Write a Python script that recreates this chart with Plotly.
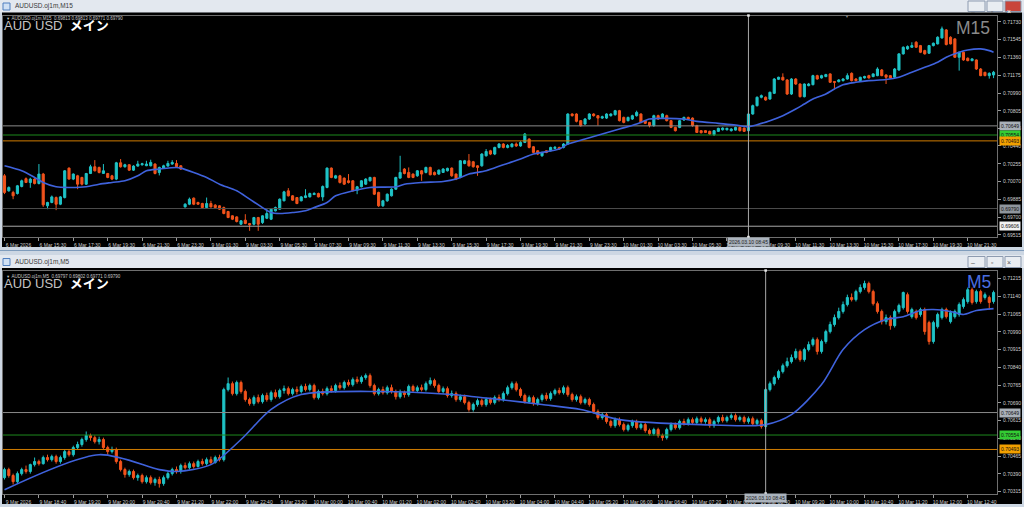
import plotly.graph_objects as go

W, H = 1024, 507

# ---------------- M15 (top window) ----------------
m15_open = [
0.70130,0.69974,0.69957,0.69946,0.70019,0.70100,0.70060,0.70096,0.70050,0.70148,
0.69818,0.69853,0.69904,0.69835,0.69904,0.70210,0.70096,0.70130,0.70113,0.70043,
0.70154,0.70224,0.70217,0.70155,0.70154,0.70130,0.70096,0.70265,0.70224,0.70245,
0.70189,0.70231,0.70245,0.70235,0.70234,0.70252,0.70165,0.70210,0.70231,0.70252,
0.70258,0.70234,0.69807,0.69835,0.69898,0.69853,0.69842,0.69800,0.69842,0.69825,
0.69818,0.69800,0.69759,0.69714,0.69703,0.69627,0.69669,0.69634,0.69627,0.69696,
0.69644,0.69689,0.69679,0.69766,0.69783,0.69870,0.69974,0.69922,0.69904,0.69870,
0.69904,0.69911,0.69935,0.69946,0.69911,0.70009,0.70210,0.70106,0.70130,0.70106,
0.70078,0.70078,0.69981,0.70016,0.70043,0.70078,0.70113,0.69957,0.69818,0.69870,
0.69922,0.69991,0.70106,0.70200,0.70165,0.70148,0.70130,0.70182,0.70165,0.70217,
0.70165,0.70148,0.70165,0.70182,0.70210,0.70148,0.70113,0.70258,0.70286,0.70276,
0.70234,0.70234,0.70338,0.70390,0.70356,0.70425,0.70460,0.70425,0.70432,0.70460,
0.70440,0.70477,0.70512,0.70432,0.70390,0.70338,0.70390,0.70390,0.70415,0.70425,
0.70425,0.70460,0.70772,0.70772,0.70703,0.70668,0.70720,0.70772,0.70755,0.70730,
0.70730,0.70755,0.70765,0.70807,0.70737,0.70703,0.70720,0.70755,0.70772,0.70703,
0.70685,0.70651,0.70755,0.70737,0.70755,0.70703,0.70633,0.70633,0.70710,0.70737,
0.70730,0.70651,0.70599,0.70599,0.70592,0.70557,0.70592,0.70609,0.70609,0.70599,
0.70605,0.70633,0.70626,0.70599,0.70772,0.70859,0.70946,0.70946,0.70928,0.70987,
0.71133,0.71154,0.71126,0.70980,0.71136,0.71084,0.70952,0.71067,0.71077,0.71171,
0.71147,0.71161,0.71189,0.71109,0.71109,0.71119,0.71136,0.71195,0.71136,0.71119,
0.71147,0.71171,0.71161,0.71171,0.71230,0.71178,0.71171,0.71154,0.71230,0.71397,
0.71449,0.71466,0.71518,0.71483,0.71431,0.71404,0.71483,0.71501,0.71563,0.71646,
0.71570,0.71553,0.71362,0.71414,0.71352,0.71327,0.71334,0.71240,0.71206,0.71171,
0.71178]
m15_high = [
0.70148,0.70020,0.69974,0.70035,0.70090,0.70113,0.70110,0.70105,0.70252,0.70160,
0.69860,0.69925,0.69915,0.69920,0.70190,0.70217,0.70155,0.70140,0.70120,0.70160,
0.70245,0.70293,0.70225,0.70252,0.70160,0.70140,0.70275,0.70304,0.70255,0.70252,
0.70240,0.70286,0.70265,0.70286,0.70297,0.70260,0.70225,0.70245,0.70286,0.70293,
0.70293,0.70240,0.69845,0.69904,0.69905,0.69860,0.69850,0.69904,0.69870,0.69835,
0.69825,0.69810,0.69766,0.69720,0.69710,0.69670,0.69731,0.69640,0.69703,0.69703,
0.69720,0.69783,0.69790,0.69810,0.69895,0.69974,0.70002,0.69930,0.69910,0.69920,
0.69991,0.69955,0.69960,0.69955,0.70030,0.70217,0.70217,0.70140,0.70140,0.70113,
0.70148,0.70085,0.70025,0.70085,0.70105,0.70120,0.70120,0.69965,0.69880,0.69946,
0.70000,0.70120,0.70338,0.70210,0.70217,0.70155,0.70190,0.70190,0.70225,0.70225,
0.70175,0.70195,0.70210,0.70215,0.70217,0.70155,0.70293,0.70295,0.70356,0.70285,
0.70240,0.70365,0.70408,0.70400,0.70432,0.70470,0.70470,0.70460,0.70470,0.70477,
0.70490,0.70575,0.70520,0.70440,0.70398,0.70380,0.70398,0.70432,0.70440,0.70432,
0.70470,0.70780,0.70780,0.70780,0.70710,0.70730,0.70780,0.70780,0.70760,0.70755,
0.70780,0.70780,0.70815,0.70815,0.70745,0.70745,0.70765,0.70807,0.70780,0.70710,
0.70690,0.70765,0.70765,0.70780,0.70765,0.70710,0.70640,0.70710,0.70745,0.70745,
0.70737,0.70660,0.70605,0.70605,0.70599,0.70605,0.70630,0.70633,0.70630,0.70625,
0.70640,0.70640,0.70633,0.70780,0.70870,0.70955,0.70975,0.70955,0.71005,0.71145,
0.71160,0.71195,0.71135,0.71145,0.71145,0.71090,0.71090,0.71095,0.71180,0.71180,
0.71180,0.71190,0.71195,0.71115,0.71135,0.71145,0.71195,0.71205,0.71145,0.71160,
0.71170,0.71180,0.71195,0.71258,0.71240,0.71185,0.71178,0.71250,0.71405,0.71475,
0.71485,0.71518,0.71530,0.71490,0.71440,0.71490,0.71515,0.71580,0.71681,0.71655,
0.71580,0.71560,0.71420,0.71420,0.71360,0.71352,0.71340,0.71250,0.71210,0.71205,
0.71220]
m15_low = [
0.69940,0.69965,0.69887,0.69935,0.70010,0.70060,0.70005,0.70040,0.70040,0.69807,
0.69783,0.69845,0.69773,0.69825,0.69895,0.70090,0.70085,0.69991,0.70030,0.70035,
0.70148,0.70175,0.70155,0.70150,0.70105,0.70085,0.70085,0.70215,0.70215,0.70180,
0.70180,0.70225,0.70235,0.70230,0.70228,0.70145,0.70134,0.70205,0.70225,0.70245,
0.70215,0.70190,0.69800,0.69825,0.69825,0.69828,0.69790,0.69795,0.69800,0.69790,
0.69775,0.69730,0.69690,0.69670,0.69645,0.69620,0.69627,0.69558,0.69615,0.69558,
0.69630,0.69680,0.69670,0.69760,0.69775,0.69865,0.69915,0.69870,0.69835,0.69865,
0.69898,0.69905,0.69930,0.69905,0.69870,0.70000,0.70105,0.70100,0.70050,0.70035,
0.70050,0.69965,0.69939,0.70010,0.70035,0.70070,0.69930,0.69807,0.69807,0.69860,
0.69915,0.69985,0.70100,0.70145,0.70105,0.70105,0.70120,0.70078,0.70155,0.70135,
0.70135,0.70140,0.70160,0.70175,0.70120,0.70085,0.70105,0.70250,0.70225,0.70215,
0.70130,0.70225,0.70330,0.70345,0.70345,0.70415,0.70415,0.70415,0.70425,0.70430,
0.70432,0.70470,0.70415,0.70365,0.70345,0.70328,0.70365,0.70383,0.70408,0.70400,
0.70415,0.70450,0.70745,0.70685,0.70640,0.70660,0.70710,0.70745,0.70651,0.70720,
0.70720,0.70745,0.70755,0.70695,0.70675,0.70695,0.70710,0.70745,0.70675,0.70668,
0.70633,0.70640,0.70710,0.70730,0.70695,0.70625,0.70590,0.70625,0.70700,0.70710,
0.70640,0.70575,0.70570,0.70575,0.70555,0.70545,0.70585,0.70600,0.70600,0.70590,
0.70600,0.70590,0.70585,0.70590,0.70765,0.70850,0.70935,0.70910,0.70920,0.70980,
0.71125,0.71120,0.70970,0.70970,0.71075,0.70945,0.70945,0.71060,0.71070,0.71130,
0.71140,0.71155,0.71095,0.71032,0.71100,0.71110,0.71130,0.71110,0.71110,0.71110,
0.71140,0.71140,0.71155,0.71165,0.71165,0.71084,0.71140,0.71145,0.71220,0.71390,
0.71440,0.71460,0.71460,0.71405,0.71390,0.71397,0.71475,0.71495,0.71555,0.71485,
0.71495,0.71355,0.71223,0.71325,0.71320,0.71320,0.71230,0.71165,0.71165,0.71140,
0.71145]
m15_close = [
0.69957,0.70009,0.69922,0.70026,0.70078,0.70060,0.70096,0.70050,0.70148,0.69828,
0.69853,0.69911,0.69835,0.69911,0.70182,0.70096,0.70148,0.70043,0.70043,0.70154,
0.70224,0.70182,0.70165,0.70182,0.70113,0.70096,0.70265,0.70224,0.70245,0.70189,
0.70231,0.70252,0.70255,0.70252,0.70269,0.70154,0.70217,0.70234,0.70258,0.70269,
0.70224,0.70200,0.69835,0.69887,0.69835,0.69835,0.69800,0.69842,0.69807,0.69800,
0.69783,0.69738,0.69696,0.69679,0.69655,0.69662,0.69634,0.69620,0.69696,0.69627,
0.69714,0.69738,0.69783,0.69800,0.69887,0.69963,0.69922,0.69877,0.69842,0.69911,
0.69922,0.69946,0.69946,0.69911,0.70019,0.70210,0.70113,0.70130,0.70061,0.70043,
0.70061,0.69974,0.70016,0.70078,0.70096,0.70113,0.69939,0.69818,0.69870,0.69939,
0.69991,0.70113,0.70165,0.70154,0.70113,0.70113,0.70182,0.70148,0.70217,0.70141,
0.70141,0.70189,0.70200,0.70207,0.70130,0.70096,0.70286,0.70286,0.70234,0.70224,
0.70217,0.70356,0.70383,0.70356,0.70425,0.70460,0.70425,0.70445,0.70460,0.70440,
0.70477,0.70564,0.70425,0.70373,0.70356,0.70373,0.70373,0.70425,0.70425,0.70408,
0.70460,0.70772,0.70755,0.70696,0.70651,0.70720,0.70772,0.70755,0.70730,0.70744,
0.70772,0.70772,0.70807,0.70703,0.70685,0.70737,0.70755,0.70789,0.70685,0.70675,
0.70651,0.70755,0.70720,0.70772,0.70703,0.70633,0.70599,0.70703,0.70737,0.70720,
0.70651,0.70581,0.70578,0.70581,0.70564,0.70599,0.70623,0.70626,0.70623,0.70616,
0.70633,0.70599,0.70592,0.70772,0.70859,0.70946,0.70963,0.70918,0.70998,0.71136,
0.71154,0.71126,0.70980,0.71136,0.71084,0.70952,0.71084,0.71084,0.71171,0.71136,
0.71171,0.71182,0.71102,0.71102,0.71126,0.71136,0.71171,0.71119,0.71119,0.71154,
0.71161,0.71147,0.71189,0.71240,0.71171,0.71154,0.71147,0.71240,0.71397,0.71466,
0.71473,0.71483,0.71466,0.71414,0.71397,0.71483,0.71508,0.71570,0.71657,0.71494,
0.71501,0.71362,0.71414,0.71334,0.71327,0.71345,0.71240,0.71171,0.71171,0.71195,
0.71206]
m15_ma_idx = [0,4,7,9,12,15,19,22,25,28,31,33,36,40,41,44,47,50,54,57,60,62,64,67,70,72,75,77,81,85,
              91,93,97,102,105,108,112,116,120,123,129,131,135,139,143,147,150,153,158,161,166,170,173,175,178,
              181,184,186,188,191,193,195,198,201,205,208,211,214,217,219,222,224,227,229,230]
m15_ma = [0.70234,0.70182,0.70113,0.70061,0.70016,0.70009,0.70016,0.70043,0.70061,0.70078,0.70130,0.70182,0.70200,
          0.70217,0.70210,0.70165,0.70113,0.70043,0.69974,0.69887,0.69800,0.69748,0.69738,0.69748,0.69766,0.69800,
          0.69853,0.69922,0.69974,0.70009,0.70016,0.70043,0.70061,0.70071,0.70096,0.70148,0.70182,0.70245,0.70304,
          0.70356,0.70408,0.70460,0.70512,0.70564,0.70616,0.70668,0.70720,0.70727,0.70720,0.70696,0.70675,0.70658,
          0.70640,0.70661,0.70703,0.70755,0.70824,0.70876,0.70928,0.70980,0.71032,0.71077,0.71102,0.71119,0.71130,
          0.71154,0.71206,0.71258,0.71310,0.71362,0.71414,0.71438,0.71449,0.71431,0.71414]
m15_xtick_idx = [0, 8, 16, 24, 32, 40, 48, 56, 64, 72, 80, 88, 96, 104, 112, 120, 128, 136,
                 144, 152, 160, 168, 176, 184, 192, 200, 208, 216, 224]
m15_xtick_text = ["6 Mar 2026", "6 Mar 15:30", "6 Mar 17:30", "6 Mar 19:30", "6 Mar 21:30", "6 Mar 23:30",
                  "9 Mar 01:30", "9 Mar 03:30", "9 Mar 05:30", "9 Mar 07:30", "9 Mar 09:30", "9 Mar 11:30",
                  "9 Mar 13:30", "9 Mar 15:30", "9 Mar 17:30", "9 Mar 19:30", "9 Mar 21:30", "9 Mar 23:30",
                  "10 Mar 01:30", "10 Mar 03:30", "10 Mar 05:30", "10 Mar 07:30", "10 Mar 09:30", "10 Mar 11:30",
                  "10 Mar 13:30", "10 Mar 15:30", "10 Mar 17:30", "10 Mar 19:30", "10 Mar 21:30"]
m15_yticks = [0.71730, 0.71545, 0.71360, 0.71175, 0.70990, 0.70805, 0.70625, 0.70440,
              0.70255, 0.70070, 0.69885, 0.69700, 0.69515]
m15_levels = [0.70649, 0.70554, 0.70493, 0.69790, 0.69606]
m15_cross_idx = 173
m15_shift_idx = 196

# ---------------- M5 (bottom window) ----------------
m5_open = [
0.70374,0.70408,0.70383,0.70357,0.70391,0.70408,0.70400,0.70429,0.70442,0.70433,
0.70459,0.70450,0.70463,0.70442,0.70459,0.70484,0.70471,0.70501,0.70514,0.70535,
0.70552,0.70543,0.70526,0.70535,0.70501,0.70484,0.70493,0.70442,0.70408,0.70387,
0.70400,0.70374,0.70383,0.70357,0.70374,0.70353,0.70366,0.70349,0.70374,0.70391,
0.70408,0.70400,0.70425,0.70416,0.70433,0.70421,0.70442,0.70433,0.70450,0.70438,
0.70459,0.70450,0.70746,0.70771,0.70729,0.70776,0.70738,0.70704,0.70687,0.70712,
0.70695,0.70721,0.70704,0.70733,0.70716,0.70742,0.70750,0.70729,0.70746,0.70738,
0.70759,0.70746,0.70763,0.70712,0.70738,0.70729,0.70750,0.70742,0.70763,0.70754,
0.70776,0.70767,0.70788,0.70780,0.70797,0.70805,0.70763,0.70729,0.70746,0.70733,
0.70754,0.70738,0.70716,0.70733,0.70725,0.70759,0.70742,0.70754,0.70746,0.70771,
0.70784,0.70763,0.70738,0.70750,0.70721,0.70729,0.70704,0.70716,0.70691,0.70662,
0.70683,0.70699,0.70683,0.70704,0.70691,0.70712,0.70704,0.70729,0.70754,0.70771,
0.70746,0.70721,0.70695,0.70712,0.70687,0.70704,0.70721,0.70708,0.70729,0.70742,
0.70733,0.70754,0.70725,0.70704,0.70716,0.70691,0.70704,0.70683,0.70653,0.70628,
0.70640,0.70611,0.70594,0.70619,0.70598,0.70577,0.70594,0.70611,0.70585,0.70598,
0.70573,0.70560,0.70577,0.70552,0.70543,0.70577,0.70598,0.70585,0.70611,0.70602,
0.70619,0.70607,0.70623,0.70611,0.70619,0.70594,0.70611,0.70628,0.70615,0.70628,
0.70636,0.70619,0.70628,0.70611,0.70623,0.70602,0.70615,0.70590,0.70746,0.70771,
0.70797,0.70822,0.70847,0.70864,0.70881,0.70907,0.70873,0.70915,0.70936,0.70957,
0.70907,0.70949,0.70991,0.71021,0.71050,0.71076,0.71105,0.71135,0.71126,0.71160,
0.71177,0.71194,0.71160,0.71109,0.71076,0.71033,0.71050,0.71016,0.71076,0.71092,
0.71147,0.71054,0.71076,0.71063,0.71084,0.71029,0.70949,0.71012,0.71050,0.71084,
0.71033,0.71054,0.71063,0.71097,0.71118,0.71168,0.71118,0.71160,0.71135,0.71135,
0.71118]
m5_high = [
0.70416,0.70416,0.70391,0.70400,0.70416,0.70425,0.70433,0.70459,0.70450,0.70467,
0.70471,0.70471,0.70471,0.70467,0.70493,0.70493,0.70509,0.70526,0.70543,0.70569,
0.70560,0.70552,0.70547,0.70543,0.70509,0.70505,0.70501,0.70450,0.70416,0.70408,
0.70408,0.70391,0.70391,0.70383,0.70383,0.70374,0.70378,0.70383,0.70400,0.70416,
0.70421,0.70433,0.70438,0.70442,0.70442,0.70450,0.70454,0.70459,0.70463,0.70467,
0.70471,0.70754,0.70797,0.70780,0.70784,0.70784,0.70746,0.70712,0.70721,0.70725,
0.70729,0.70733,0.70742,0.70746,0.70750,0.70763,0.70759,0.70754,0.70759,0.70767,
0.70771,0.70771,0.70771,0.70746,0.70750,0.70759,0.70763,0.70771,0.70776,0.70784,
0.70788,0.70797,0.70801,0.70805,0.70814,0.70814,0.70771,0.70754,0.70759,0.70763,
0.70767,0.70746,0.70746,0.70742,0.70767,0.70767,0.70763,0.70767,0.70780,0.70797,
0.70792,0.70771,0.70759,0.70759,0.70742,0.70738,0.70725,0.70725,0.70699,0.70691,
0.70708,0.70708,0.70712,0.70712,0.70721,0.70725,0.70738,0.70763,0.70780,0.70780,
0.70754,0.70729,0.70721,0.70721,0.70712,0.70729,0.70733,0.70738,0.70750,0.70754,
0.70763,0.70763,0.70733,0.70725,0.70725,0.70712,0.70712,0.70691,0.70662,0.70649,
0.70649,0.70619,0.70628,0.70628,0.70607,0.70602,0.70619,0.70619,0.70607,0.70607,
0.70581,0.70585,0.70585,0.70560,0.70585,0.70607,0.70607,0.70619,0.70623,0.70628,
0.70628,0.70632,0.70632,0.70628,0.70628,0.70619,0.70636,0.70640,0.70636,0.70645,
0.70645,0.70636,0.70636,0.70632,0.70632,0.70623,0.70623,0.70754,0.70780,0.70805,
0.70830,0.70856,0.70881,0.70894,0.70919,0.70915,0.70923,0.70949,0.70966,0.70966,
0.70957,0.70999,0.71033,0.71063,0.71092,0.71118,0.71147,0.71152,0.71168,0.71190,
0.71206,0.71202,0.71168,0.71118,0.71084,0.71063,0.71059,0.71084,0.71109,0.71160,
0.71156,0.71092,0.71084,0.71092,0.71092,0.71037,0.71037,0.71071,0.71092,0.71092,
0.71080,0.71084,0.71114,0.71135,0.71177,0.71177,0.71168,0.71168,0.71156,0.71143,
0.71164]
m5_low = [
0.70366,0.70374,0.70345,0.70349,0.70383,0.70391,0.70391,0.70421,0.70425,0.70429,
0.70442,0.70442,0.70433,0.70433,0.70450,0.70463,0.70463,0.70493,0.70505,0.70526,
0.70530,0.70518,0.70514,0.70493,0.70471,0.70476,0.70433,0.70400,0.70374,0.70378,
0.70366,0.70361,0.70349,0.70349,0.70345,0.70340,0.70332,0.70340,0.70366,0.70383,
0.70391,0.70391,0.70408,0.70408,0.70412,0.70416,0.70425,0.70425,0.70429,0.70433,
0.70442,0.70442,0.70738,0.70721,0.70721,0.70729,0.70695,0.70678,0.70678,0.70687,
0.70687,0.70695,0.70695,0.70708,0.70708,0.70729,0.70721,0.70721,0.70725,0.70729,
0.70738,0.70738,0.70704,0.70704,0.70721,0.70721,0.70733,0.70733,0.70746,0.70746,
0.70759,0.70759,0.70771,0.70771,0.70788,0.70754,0.70721,0.70721,0.70725,0.70725,
0.70729,0.70704,0.70708,0.70712,0.70716,0.70733,0.70733,0.70738,0.70738,0.70763,
0.70754,0.70729,0.70729,0.70712,0.70712,0.70695,0.70695,0.70683,0.70653,0.70653,
0.70674,0.70674,0.70674,0.70683,0.70683,0.70695,0.70695,0.70721,0.70746,0.70738,
0.70712,0.70687,0.70687,0.70678,0.70678,0.70695,0.70699,0.70699,0.70721,0.70725,
0.70725,0.70716,0.70695,0.70695,0.70683,0.70683,0.70674,0.70645,0.70619,0.70619,
0.70602,0.70585,0.70585,0.70590,0.70569,0.70569,0.70585,0.70577,0.70577,0.70564,
0.70552,0.70552,0.70543,0.70530,0.70535,0.70569,0.70577,0.70577,0.70594,0.70594,
0.70598,0.70598,0.70602,0.70602,0.70585,0.70585,0.70602,0.70607,0.70607,0.70619,
0.70611,0.70611,0.70602,0.70602,0.70594,0.70594,0.70581,0.70581,0.70738,0.70763,
0.70788,0.70814,0.70839,0.70856,0.70873,0.70864,0.70864,0.70907,0.70928,0.70894,
0.70898,0.70940,0.70983,0.71012,0.71042,0.71067,0.71097,0.71118,0.71118,0.71152,
0.71168,0.71152,0.71101,0.71067,0.71021,0.71021,0.70999,0.71008,0.71067,0.71084,
0.71067,0.71046,0.71042,0.71054,0.70978,0.70936,0.70940,0.71004,0.71042,0.71046,
0.71025,0.71046,0.71054,0.71088,0.71109,0.71105,0.71109,0.71109,0.71126,0.71084,
0.71109]
m5_close = [
0.70408,0.70383,0.70357,0.70391,0.70408,0.70400,0.70429,0.70442,0.70433,0.70459,
0.70450,0.70463,0.70442,0.70459,0.70484,0.70471,0.70501,0.70514,0.70535,0.70552,
0.70543,0.70526,0.70535,0.70501,0.70484,0.70493,0.70442,0.70408,0.70387,0.70400,
0.70374,0.70383,0.70357,0.70374,0.70353,0.70366,0.70349,0.70374,0.70391,0.70408,
0.70400,0.70425,0.70416,0.70433,0.70421,0.70442,0.70433,0.70450,0.70438,0.70459,
0.70450,0.70746,0.70771,0.70729,0.70776,0.70738,0.70704,0.70687,0.70712,0.70695,
0.70721,0.70704,0.70733,0.70716,0.70742,0.70750,0.70729,0.70746,0.70738,0.70759,
0.70746,0.70763,0.70712,0.70738,0.70729,0.70750,0.70742,0.70763,0.70754,0.70776,
0.70767,0.70788,0.70780,0.70797,0.70805,0.70763,0.70729,0.70746,0.70733,0.70754,
0.70738,0.70716,0.70733,0.70725,0.70759,0.70742,0.70754,0.70746,0.70771,0.70784,
0.70763,0.70738,0.70750,0.70721,0.70729,0.70704,0.70716,0.70691,0.70662,0.70683,
0.70699,0.70683,0.70704,0.70691,0.70712,0.70704,0.70729,0.70754,0.70771,0.70746,
0.70721,0.70695,0.70712,0.70687,0.70704,0.70721,0.70708,0.70729,0.70742,0.70733,
0.70754,0.70725,0.70704,0.70716,0.70691,0.70704,0.70683,0.70653,0.70628,0.70640,
0.70611,0.70594,0.70619,0.70598,0.70577,0.70594,0.70611,0.70585,0.70598,0.70573,
0.70560,0.70577,0.70552,0.70543,0.70577,0.70598,0.70585,0.70611,0.70602,0.70619,
0.70607,0.70623,0.70611,0.70619,0.70594,0.70611,0.70628,0.70615,0.70628,0.70636,
0.70619,0.70628,0.70611,0.70623,0.70602,0.70615,0.70590,0.70746,0.70771,0.70797,
0.70822,0.70847,0.70864,0.70881,0.70907,0.70873,0.70915,0.70936,0.70957,0.70907,
0.70949,0.70991,0.71021,0.71050,0.71076,0.71105,0.71135,0.71126,0.71160,0.71177,
0.71194,0.71160,0.71109,0.71076,0.71033,0.71050,0.71016,0.71076,0.71101,0.71156,
0.71076,0.71084,0.71050,0.71084,0.70991,0.70949,0.71029,0.71063,0.71084,0.71054,
0.71071,0.71076,0.71105,0.71126,0.71168,0.71114,0.71160,0.71118,0.71147,0.71114,
0.71156]
m5_ma_idx = [0, 22, 36, 40, 48, 55, 62, 69, 87, 104, 115, 125, 134, 143, 162, 177, 183, 190, 195, 200,
             205, 209, 213, 216, 220, 223, 226, 230]
m5_ma = [0.70323, 0.70471, 0.70408, 0.70400, 0.70429, 0.70535, 0.70662, 0.70725, 0.70738, 0.70725, 0.70704,
         0.70683, 0.70662, 0.70619, 0.70598, 0.70598, 0.70640, 0.70767, 0.70915, 0.70999, 0.71042, 0.71054,
         0.71080, 0.71084, 0.71076, 0.71063, 0.71080, 0.71088]
m5_xtick_idx = [0, 8, 16, 24, 32, 40, 48, 56, 64, 72, 80, 88, 96, 104, 112, 120, 128, 136,
                144, 152, 160, 168, 176, 184, 192, 200, 208, 216, 224]
m5_xtick_text = ["9 Mar 2026", "9 Mar 18:40", "9 Mar 19:20", "9 Mar 20:00", "9 Mar 20:40", "9 Mar 21:20",
                 "9 Mar 22:00", "9 Mar 22:40", "9 Mar 23:20", "10 Mar 00:00", "10 Mar 00:40", "10 Mar 01:20",
                 "10 Mar 02:00", "10 Mar 02:40", "10 Mar 03:20", "10 Mar 04:00", "10 Mar 04:40", "10 Mar 05:20",
                 "10 Mar 06:00", "10 Mar 06:40", "10 Mar 07:20", "10 Mar 08:00", "10 Mar 08:40", "10 Mar 09:20",
                 "10 Mar 10:00", "10 Mar 10:40", "10 Mar 11:20", "10 Mar 12:00", "10 Mar 12:40"]
m5_yticks = [0.71215, 0.71140, 0.71065, 0.70990, 0.70915, 0.70840, 0.70765, 0.70690,
             0.70615, 0.70540, 0.70465, 0.70390, 0.70315]
m5_levels = [0.70649, 0.70554, 0.70493]
m5_cross_idx = 177

cross_label = "2026.03.10 08:45"

# ---------------- styling ----------------
BULL = "#1fc3c6"
BEAR = "#f2531c"
MA_COLOR = "#3f62dc"
AX_TXT = "#cfcfcf"
AX_LINE = "#6f6f6f"
FONT = "Liberation Sans, DejaVu Sans, sans-serif"
JPFONT = "Liberation Sans, Noto Sans CJK JP, sans-serif"
LEVEL_LINE = ["#8a8a8a", "#1d8a1d", "#d07c00", "#4d4d4d", "#a8a8a8"]
LEVEL_BOX = ["#a9b0b8", "#33cc33", "#f2a000", "#8e959d", "#f2f2f2"]
X_RANGE = [-0.35, 230.8]


def py(y):
    return 1 - y / H


def px(x):
    return x / W


fig = go.Figure()


def add_chart(n, o, h, l, c, ma_i, ma_v, levels):
    xa = "x" if n == 1 else "x2"
    ya = "y" if n == 1 else "y2"
    for k, lv in enumerate(levels):
        fig.add_trace(go.Scatter(x=X_RANGE, y=[lv, lv], mode="lines", xaxis=xa, yaxis=ya,
                                 line=dict(color=LEVEL_LINE[k], width=1), showlegend=False, hoverinfo="skip"))
    fig.add_trace(go.Candlestick(
        x=list(range(len(o))), open=o, high=h, low=l, close=c,
        increasing=dict(line=dict(color=BULL, width=1), fillcolor=BULL),
        decreasing=dict(line=dict(color=BEAR, width=1), fillcolor=BEAR),
        whiskerwidth=0, xaxis=xa, yaxis=ya, showlegend=False, hoverinfo="skip"))
    fig.add_trace(go.Scatter(x=ma_i, y=ma_v, mode="lines", xaxis=xa, yaxis=ya,
                             line=dict(color=MA_COLOR, width=1.6, shape="spline", smoothing=0.8),
                             showlegend=False, hoverinfo="skip"))


add_chart(1, m15_open, m15_high, m15_low, m15_close, m15_ma_idx, m15_ma, m15_levels)
add_chart(2, m5_open, m5_high, m5_low, m5_close, m5_ma_idx, m5_ma, m5_levels)

shapes = []
ann = []

# window chrome
shapes.append(dict(type="rect", xref="paper", yref="paper", x0=0, x1=1, y0=py(12.5), y1=1,
                   fillcolor="#e3e8ef", line=dict(width=0), layer="below"))
shapes.append(dict(type="rect", xref="paper", yref="paper", x0=px(2), x1=px(1022), y0=py(247), y1=py(12.5),
                   fillcolor="#000000", line=dict(width=0), layer="below"))
shapes.append(dict(type="rect", xref="paper", yref="paper", x0=0, x1=1, y0=py(268), y1=py(255),
                   fillcolor="#e3e8ef", line=dict(width=0), layer="below"))
shapes.append(dict(type="line", xref="paper", yref="paper", x0=0, x1=1, y0=py(250.5), y1=py(250.5),
                   line=dict(color="#7f9cbc", width=1), layer="below"))
shapes.append(dict(type="rect", xref="paper", yref="paper", x0=px(2), x1=px(1022), y0=py(504), y1=py(268),
                   fillcolor="#000000", line=dict(width=0), layer="below"))

# window title texts / icons / buttons
for ty, title in [(6.5, "AUDUSD.oj1m,M15"), (262, "AUDUSD.oj1m,M5")]:
    shapes.append(dict(type="rect", xref="paper", yref="paper", x0=px(3), x1=px(10), y0=py(ty + 3.5), y1=py(ty - 3.5),
                       fillcolor="#cfe0f4", line=dict(color="#4f7fbf", width=1), layer="below"))
    ann.append(dict(x=px(13), y=py(ty), xref="paper", yref="paper", text=title, showarrow=False,
                    xanchor="left", yanchor="middle", font=dict(size=6.5, color="#3a3a3a", family=FONT)))
for (ty0, ty1, active) in [(1, 11.5, True), (256.5, 267.5, False)]:
    for k, (bx0, bx1) in enumerate([(968, 985), (987, 1003), (1005, 1021)]):
        fill = "#c9453b" if (active and k == 2) else "#e9edf2"
        shapes.append(dict(type="rect", xref="paper", yref="paper", x0=px(bx0), x1=px(bx1), y0=py(ty1), y1=py(ty0),
                           fillcolor=fill, line=dict(color="#8d9bb0", width=1), layer="below"))
        glyph = ["–", "▫", "×"][k]
        ann.append(dict(x=px((bx0 + bx1) / 2), y=py((ty0 + ty1) / 2), xref="paper", yref="paper", text=glyph,
                        showarrow=False, font=dict(size=7, color="#ffffff" if fill == "#c9453b" else "#555555",
                                                   family=FONT)))


def axis_common(dom, rng, tv, tt):
    return dict(domain=dom, range=rng, tickvals=tv, ticktext=tt, showgrid=False, zeroline=False,
                showline=True, mirror=True, linecolor=AX_LINE, linewidth=1, ticks="outside", ticklen=3,
                tickcolor="#9a9a9a", tickfont=dict(size=5, color=AX_TXT, family=FONT), fixedrange=True)


x1 = axis_common([px(3), px(997)], X_RANGE, m15_xtick_idx, m15_xtick_text)
x1.update(anchor="y", rangeslider=dict(visible=False), ticklabelshift=14)
y1 = axis_common([py(237), py(15.5)], [0.69494, 0.71796], m15_yticks, [f"{v:.5f}" for v in m15_yticks])
y1.update(anchor="x", side="right", ticklabelstandoff=1)
x2 = axis_common([px(3), px(997)], X_RANGE, m5_xtick_idx, m5_xtick_text)
x2.update(anchor="y2", rangeslider=dict(visible=False), ticklabelshift=14)
y2 = axis_common([py(493.5), py(270.5)], [0.70307, 0.71249], m5_yticks, [f"{v:.5f}" for v in m5_yticks])
y2.update(anchor="x2", side="right", ticklabelstandoff=1)

# price boxes on the price scale
for yref, levels in [("y", m15_levels), ("y2", m5_levels)]:
    for k, lv in enumerate(levels):
        ann.append(dict(x=px(998.5), y=lv, xref="paper", yref=yref, text=f"{lv:.5f}", showarrow=False,
                        xanchor="left", yanchor="middle", bgcolor=LEVEL_BOX[k], borderpad=1,
                        font=dict(size=5, color="#111111", family=FONT)))

# crosshair lines, end markers and time labels
for xref, yref, ci, ly, ytop, ybot in [("x", "y", m15_cross_idx, 241.5, 15.5, 237),
                                       ("x2", "y2", m5_cross_idx, 497.5, 270.5, 493.5)]:
    shapes.append(dict(type="line", xref=xref, yref=f"{yref} domain", x0=ci, x1=ci, y0=0, y1=1,
                       line=dict(color="#a8a8a8", width=1), layer="above"))
    for yy in (ytop, ybot):
        shapes.append(dict(type="rect", xref=xref, yref="paper", x0=ci - 0.3, x1=ci + 0.3,
                           y0=py(yy + 1.2), y1=py(yy - 1.2), fillcolor="#e8e8e8", line=dict(width=0),
                           layer="above"))
    ann.append(dict(x=ci, y=py(ly), xref=xref, yref="paper", text=cross_label, showarrow=False,
                    xanchor="center", yanchor="middle", bgcolor="#aab3bd", borderpad=1,
                    font=dict(size=5, color="#1a1a1a", family=FONT)))

# chart-shift marker at the top of the M15 chart
ann.append(dict(x=m15_shift_idx, y=py(17), xref="x", yref="paper", text="▼", showarrow=False,
                xanchor="center", yanchor="middle", font=dict(size=4, color="#8a8a8a", family=FONT)))

# chart header texts
for y_info, y_name, info in [(18.5, 25.5, "▾  AUDUSD.oj1m,M15  0.69813 0.69813 0.69771 0.69790"),
                             (276, 283, "▾  AUDUSD.oj1m,M5  0.69797 0.69802 0.69771 0.69790")]:
    ann.append(dict(x=px(5), y=py(y_info), xref="paper", yref="paper", text=info, showarrow=False,
                    xanchor="left", yanchor="middle", font=dict(size=4.5, color="#c8c8c8", family=FONT)))
    ann.append(dict(x=px(2), y=py(y_name), xref="paper", yref="paper",
                    text="<span style='color:#c4c4c4'>AUD USD</span>  <b>メイン</b>", showarrow=False,
                    xanchor="left", yanchor="middle", font=dict(size=13, color="#ffffff", family=JPFONT)))

ann.append(dict(x=px(992), y=py(28), xref="paper", yref="paper", text="M15", showarrow=False,
                xanchor="right", yanchor="middle", font=dict(size=17.5, color="#8a8a8a", family=FONT)))
ann.append(dict(x=px(993), y=py(282), xref="paper", yref="paper", text="M5", showarrow=False,
                xanchor="right", yanchor="middle", font=dict(size=17.5, color="#4a6ee0", family=FONT)))

fig.update_layout(
    width=W, height=H, margin=dict(l=0, r=0, t=0, b=0),
    paper_bgcolor="#cdd7e3", plot_bgcolor="#000000",
    xaxis=x1, yaxis=y1, xaxis2=x2, yaxis2=y2,
    shapes=shapes, annotations=ann, showlegend=False, hovermode=False,
)

fig.write_html("out.html", config={"displayModeBar": False},
               post_script="document.body.style.margin='0';document.body.style.overflow='hidden';")
